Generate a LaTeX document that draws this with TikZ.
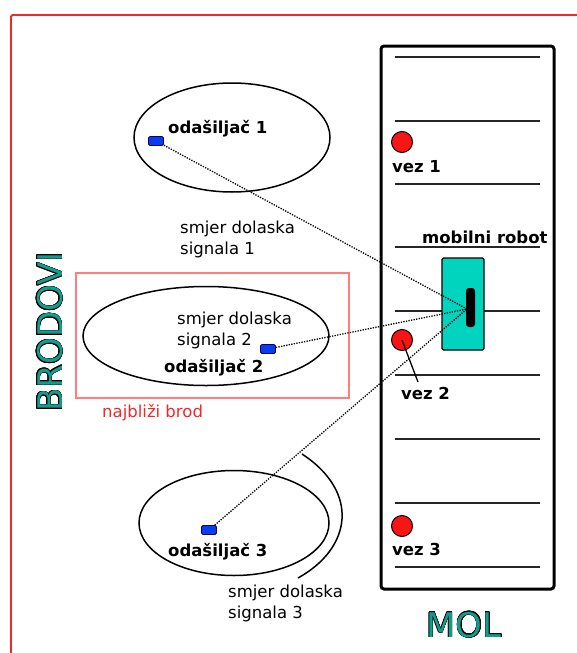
\documentclass[tikz,border=0pt]{standalone}
\usepackage{fontspec}
\setmainfont{DejaVu Sans}
\usepackage[copies]{contour}
\contourlength{0.5pt}
\usetikzlibrary{shapes.geometric}
\definecolor{framered}{RGB}{240,40,40}
\definecolor{boxred}{RGB}{255,125,125}
\definecolor{robotteal}{RGB}{0,212,190}
\definecolor{titleteal}{RGB}{20,155,140}
\definecolor{txblue}{RGB}{10,60,240}
\definecolor{vezred}{RGB}{250,20,20}
\begin{document}
\begin{tikzpicture}[x=1pt,y=-1pt,
  lbl/.style={font=\fontsize{16.5}{21}\selectfont, inner sep=0pt, anchor=base west, align=left},
  blbl/.style={font=\fontsize{16.5}{21}\selectfont\bfseries, inner sep=0pt, anchor=base west},
  title/.style={font=\fontsize{34}{40}\selectfont, inner sep=0pt},
  ship/.style={draw=black, line width=1.5pt, ellipse, inner sep=0pt},
  tx/.style={draw=black!60!blue, fill=txblue, rounded corners=1.5pt, line width=0.8pt, minimum width=15pt, minimum height=9pt, inner sep=0pt},
  vez/.style={circle, draw=black, fill=vezred, line width=1pt, minimum size=21pt, inner sep=0pt},
  dock/.style={draw=black!85, line width=2pt},
  sig/.style={line width=1.3pt, dash pattern=on 1.3pt off 1.3pt}]
\useasboundingbox (0,0) rectangle (577,653);
% outer frame
\draw[framered, line width=1.8pt, rounded corners=1.5pt] (11,653) -- (11,15) -- (577,15);
% pier
\draw[line width=3pt, rounded corners=3pt] (381,46) rectangle (554,589);
\foreach \yy in {57,121,184,247,311,375,439,503,567}
  \draw[dock] (395,\yy) -- (540,\yy);
% nearest ship box
\draw[boxred, line width=1.5pt] (76,273) rectangle (349,398);
\node[lbl, text=framered] (nb) at (102,417) {najbliži brod};
% ships
\node[ship, minimum width=196pt, minimum height=109pt] (s1) at (232,137.5) {};
\node[ship, minimum width=246pt, minimum height=99pt] (s2) at (206,336) {};
\node[ship, minimum width=190pt, minimum height=105pt] (s3) at (234,523) {};
% robot
\node[draw=black, fill=robotteal, rounded corners=1.5pt, line width=1.2pt, minimum width=42pt, minimum height=92pt, inner sep=0pt] (robot) at (463,304) {};
\node[fill=black, rounded corners=3pt, minimum width=9pt, minimum height=39pt, inner sep=0pt] (bar) at (470.5,307.5) {};
\coordinate (rx) at (467,309);
\node[blbl] (mr) at (422,243) {mobilni robot};
% berths
\node[vez] (v1) at (402,142) {};
\node[vez] (v2) at (402,340) {};
\node[vez] (v3) at (402,526) {};
\node[blbl] (lv1) at (392,172) {vez 1};
\node[blbl] (lv2) at (401,399) {vez 2};
\node[blbl] (lv3) at (392,555) {vez 3};
\coordinate (v2end) at (418,382);
\draw[line width=1.3pt] (v2.center) -- (v2end);
% transmitters
\node[tx] (t1) at (156,141) {};
\node[tx] (t2) at (268,349) {};
\node[tx] (t3) at (209,530) {};
\node[blbl] (o1) at (168,133) {odašiljač 1};
\node[blbl] (o2) at (164,372) {odašiljač 2};
\node[blbl] (o3) at (168,556) {odašiljač 3};
% signals
\draw[sig] (t1) -- (rx);
\draw[sig] (t2) -- (rx);
\draw[sig] (t3) -- (rx);
\node[lbl] (d1) at (180,254) {smjer dolaska\\signala 1};
\node[lbl] (d2) at (177,345) {smjer dolaska\\signala 2};
\node[lbl] (d3) at (228,618) {smjer dolaska\\signala 3};
\draw[line width=1.5pt] (302,454) .. controls (360,492) and (352,548) .. (298,578);
% titles
\node[title, rotate=90] (brodovi) at (50,332) {\contour{black}{\textcolor{titleteal}{BRODOVI}}};
\node[title] (mol) at (464,625) {\contour{black}{\textcolor{titleteal}{MOL}}};
\end{tikzpicture}
\end{document}
